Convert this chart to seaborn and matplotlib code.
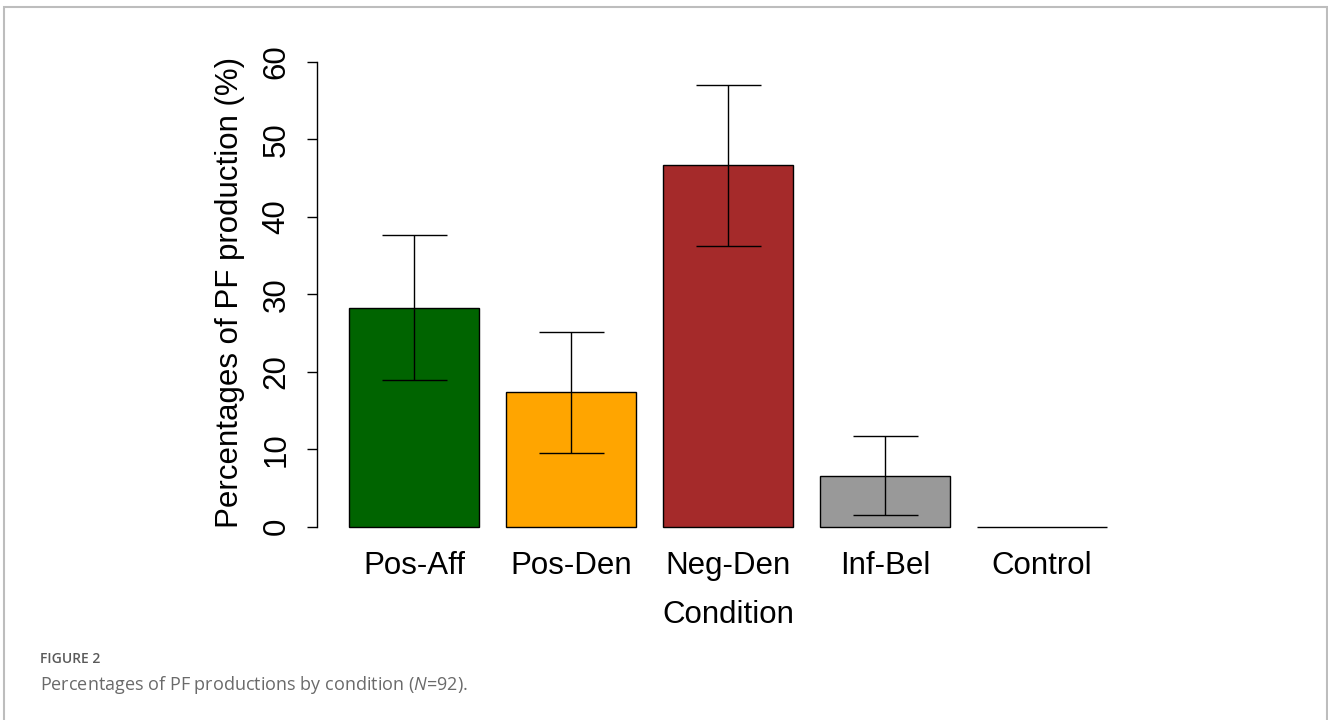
import pandas as pd
import matplotlib.pyplot as plt
import seaborn as sns
from matplotlib.patches import Rectangle

# Data (percent of PF production per condition)
conditions = ['Pos-Aff', 'Pos-Den', 'Neg-Den', 'Inf-Bel', 'Control']
pct = [28.3, 17.4, 46.7, 6.6, 0.0]
ci_low = [18.9, 9.5, 36.2, 1.5, float('nan')]
ci_high = [37.6, 25.2, 57.0, 11.7, float('nan')]
bar_colors = ['#006400', '#FFA500', '#A52A2A', '#999999', '#FFFFFF']

df = pd.DataFrame({'Condition': conditions, 'Percent': pct,
                   'Low': ci_low, 'High': ci_high})

sns.set_style('white')
plt.rcParams['font.family'] = ['Liberation Sans', 'DejaVu Sans']
plt.rcParams['mathtext.fontset'] = 'custom'
plt.rcParams['mathtext.rm'] = 'Open Sans'
plt.rcParams['mathtext.it'] = 'Open Sans:italic'

W, H = 1328, 720
fig = plt.figure(figsize=(W / 100, H / 100), dpi=100)

# axes placed in pixel terms (left spine at x=317, plot region 40..545 px)
left, right, top, bottom = 317, 1139, 40, 545
ax = fig.add_axes([left / W, 1 - bottom / H, (right - left) / W, (bottom - top) / H])

sns.barplot(data=df, x='Condition', y='Percent', hue='Condition', palette=bar_colors,
            legend=False, errorbar=None, width=0.833, edgecolor='black', linewidth=1.0,
            saturation=1, ax=ax)

# error bars (95% CI)
yerr = [df['Percent'] - df['Low'], df['High'] - df['Percent']]
ax.errorbar(range(len(conditions)), df['Percent'], yerr=yerr, fmt='none',
            ecolor='black', elinewidth=1.0, capsize=23.4, capthick=1.0)

ax.set_xlim(-0.618, 4.618)
ax.set_ylim(-2.36, 62.84)
ax.set_yticks([0, 10, 20, 30, 40, 50, 60])

for s in ['top', 'right', 'bottom']:
    ax.spines[s].set_visible(False)
ax.spines['left'].set_bounds(0, 60)
ax.spines['left'].set_color('black')
ax.spines['left'].set_linewidth(1.0)

fs = 22.5
ax.tick_params(axis='y', length=7.4, width=1.0, color='black', labelsize=fs, pad=11,
               left=True, labelcolor='black')
ax.tick_params(axis='x', length=0, labelsize=fs, pad=4, labelcolor='black')
for lbl in ax.get_yticklabels():
    lbl.set_rotation(90)
    lbl.set_va('center')

ax.set_ylabel('Percentages of PF production (%)', fontsize=fs, color='black', labelpad=12)
ax.set_xlabel('Condition', fontsize=fs, color='black', labelpad=14)

# caption and frame
fig.text(40 / W, 1 - 659 / H, 'FIGURE 2', fontsize=10, fontweight='semibold',
         family='Open Sans', color='#5a5a5a', va='center', ha='left')
fig.text(40 / W, 1 - 685 / H, 'Percentages of PF productions by condition ($\\mathit{N}$=92).',
         fontsize=13, family='Open Sans', color='#6a6a6a', va='center', ha='left')
fig.patches.append(Rectangle((4 / W, -0.05), (1327 - 4) / W, 1.05 - 7 / H,
                             transform=fig.transFigure, fill=False,
                             edgecolor='#bdbdbd', linewidth=1.5))

plt.savefig('out.png', dpi=100)
